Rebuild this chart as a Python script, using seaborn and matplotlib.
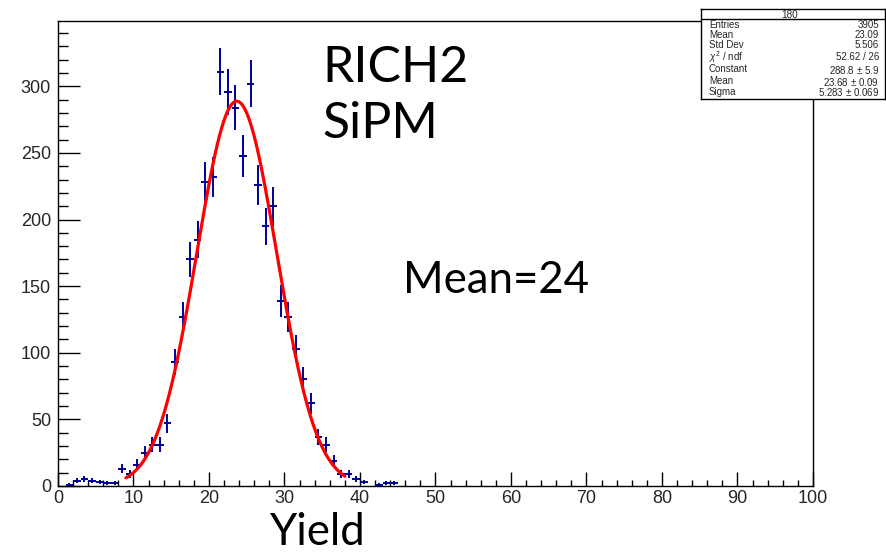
import numpy as np
import pandas as pd
import matplotlib
matplotlib.use("Agg")
import matplotlib.pyplot as plt
import seaborn as sns
from matplotlib.ticker import MultipleLocator

# ---- data (histogram "180", bin width 1, bins start at 0) ----
bin_left = list(range(0, 46))
counts = [0, 1, 4, 5, 4, 3, 2, 2, 13, 9,
          16, 25, 31, 31, 47, 93, 127, 170, 185, 228,
          232, 311, 296, 284, 248, 302, 226, 195, 210, 139,
          127, 103, 80, 62, 37, 31, 19, 9, 9, 5,
          3, 0, 1, 2, 2, 0]
# gaussian fit parameters (from stats box)
fit_const = 288.8
fit_mean = 23.68
fit_sigma = 5.283
fit_range = (9.0, 38.0)

stats_title = "180"
stats_rows = [("Entries", "3905"), ("Mean", "23.09"), ("Std Dev", "5.506"),
              ("$\\chi^2$ / ndf", "52.62 / 26"), ("Constant", "288.8 $\\pm$ 5.9"),
              ("Mean", "23.68 $\\pm$ 0.09"), ("Sigma", "5.283 $\\pm$ 0.069")]

sns.set_theme(style="ticks")
plt.rcParams['font.family'] = ['Liberation Sans', 'DejaVu Sans']
plt.rcParams['mathtext.fontset'] = 'custom'
plt.rcParams['mathtext.rm'] = 'Liberation Sans'
plt.rcParams['mathtext.it'] = 'Liberation Sans:italic'

W, H = 887, 554
fig = plt.figure(figsize=(W / 100, H / 100), dpi=100)
fig.patch.set_facecolor("white")
ax = fig.add_axes([58 / W, (H - 486) / H, (813 - 58) / W, (486 - 21) / H])
ax.set_facecolor("white")

df = pd.DataFrame({"x": np.array(bin_left) + 0.5, "y": counts})
df = df[df["y"] > 0]
navy = "#000099"
ax.errorbar(df["x"], df["y"], yerr=np.sqrt(df["y"]), xerr=0.5, fmt="none",
            ecolor=navy, elinewidth=1.4, capsize=0, zorder=3)

xf = np.linspace(fit_range[0], fit_range[1], 300)
fit_df = pd.DataFrame({"x": xf,
                       "y": fit_const * np.exp(-0.5 * ((xf - fit_mean) / fit_sigma) ** 2)})
sns.lineplot(data=fit_df, x="x", y="y", color="#ff0000", linewidth=2.3, ax=ax, zorder=4)

ax.set_xlim(0, 100)
ax.set_ylim(0, 349)
ax.xaxis.set_major_locator(MultipleLocator(10))
ax.xaxis.set_minor_locator(MultipleLocator(2))
ax.yaxis.set_major_locator(MultipleLocator(50))
ax.yaxis.set_minor_locator(MultipleLocator(10))
ax.tick_params(axis="x", which="major", direction="in", length=10, width=1, labelsize=13, pad=3, color="black")
ax.tick_params(axis="x", which="minor", direction="in", length=4.3, width=1, color="black")
ax.tick_params(axis="y", which="major", direction="in", length=16, width=1, labelsize=13, pad=5, color="black")
ax.tick_params(axis="y", which="minor", direction="in", length=7.5, width=1, color="black")
for s in ax.spines.values():
    s.set_color("black")
    s.set_linewidth(1)
ax.set_xlabel("")
ax.set_ylabel("")
ax.grid(False)

# overlay texts
big = dict(family=["Lato", "DejaVu Sans"], color="black")
fig.text(322 / W, 1 - 82 / H, "RICH2", ha="left", va="baseline", fontsize=36, **big)
fig.text(322 / W, 1 - 138 / H, "SiPM", ha="left", va="baseline", fontsize=36, **big)
fig.text(403 / W, 1 - 293 / H, "Mean=24", ha="left", va="baseline", fontsize=31.5, **big)
fig.text(318 / W, 1 - 545 / H, "Yield", ha="center", va="baseline", fontsize=31.5, **big)

# stats box
bx0, by0, bx1, by1 = 701, 9, 885, 99
sax = fig.add_axes([bx0 / W, 1 - by1 / H, (bx1 - bx0) / W, (by1 - by0) / H])
sax.set_xlim(bx0, bx1)
sax.set_ylim(by1, by0)
sax.set_xticks([])
sax.set_yticks([])
sax.set_facecolor("white")
for s in sax.spines.values():
    s.set_color("black")
    s.set_linewidth(1)
sax.plot([bx0, bx1], [19, 19], color="black", lw=1)
sax.text(790, 14.5, stats_title, ha="center", va="center", fontsize=7.2)
row_y = [25, 35, 45, 57, 69.5, 81.5, 92]
for (lab, val), yy in zip(stats_rows, row_y):
    sax.text(709, yy, lab, ha="left", va="center", fontsize=7.0)
    sax.text(879, yy, val, ha="right", va="center", fontsize=7.0)

fig.savefig("out.png", dpi=100, facecolor="white")
